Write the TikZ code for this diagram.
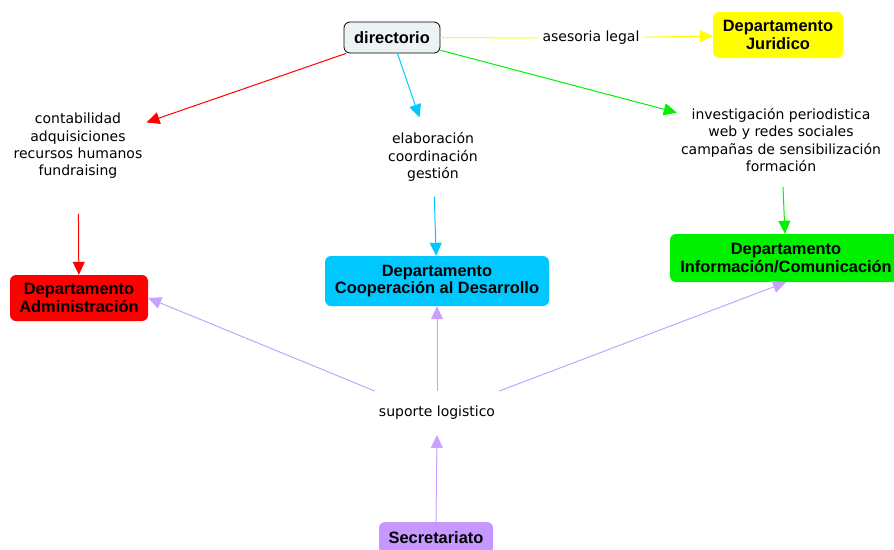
\documentclass[tikz,border=0pt]{standalone}
\usepackage{xcolor}
\usepackage{fontspec}
\setmainfont{Liberation Sans}
\newfontfamily\topicfont{DejaVu Sans}
\usetikzlibrary{arrows.meta}
\definecolor{dirgray}{HTML}{EDF3F5}
\definecolor{juryellow}{HTML}{FFFF00}
\definecolor{admred}{HTML}{FF0000}
\definecolor{coopblue}{HTML}{00C8FF}
\definecolor{infogreen}{HTML}{00F000}
\definecolor{secpurple}{HTML}{C697FF}
\definecolor{logpurple}{HTML}{C8A2FF}
\tikzset{arrow/.style={draw,-{Triangle[length=13pt,width=12pt]},line width=1pt,#1}}
\tikzset{arrow/.default={black}}
\tikzset{link/.style={draw,line width=1pt,#1}}
\tikzset{dept/.style={rounded corners=6pt,fill=#1,align=center,inner sep=0pt,font={\fontsize{16.4pt}{17.5pt}\selectfont\bfseries}}}
\tikzset{topic/.style={align=center,inner xsep=4pt,inner ysep=15pt,yshift=-3pt,font={\fontsize{14pt}{17.3pt}\selectfont\topicfont}}}

\begin{document}
\begin{tikzpicture}[x=1pt,y=-1pt]
        \useasboundingbox (0,0) rectangle (894,549);
        \node[dept=dirgray,draw=black,line width=0.8pt,minimum width=96pt,minimum height=31pt] (dir) at (392,37.5) {directorio};
        \node[dept=juryellow,minimum width=130pt,minimum height=46pt] (jur) at (778,35) {Departamento\\Juridico};
        \node[dept=admred,minimum width=138pt,minimum height=46pt] (adm) at (79,298) {Departamento\\Administración};
        \node[dept=coopblue,minimum width=224pt,minimum height=50pt] (coop) at (437,281) {Departamento\\Cooperación al Desarrollo};
        \node[dept=infogreen,minimum width=232pt,minimum height=48pt] (info) at (786,258) {Departamento\\Información/Comunicación};
        \node[dept=secpurple,minimum width=114pt,minimum height=32pt] (sec) at (436,538) {Secretariato};

        \node[topic,inner ysep=3pt,yshift=1pt] (legal) at (591,36) {asesoria legal};
        \node[topic] (adq) at (78,143) {contabilidad\\adquisiciones\\recursos humanos\\fundraising};
        \node[topic] (coord) at (433,154) {elaboración\\coordinación\\gestión};
        \node[topic] (redes) at (781,137) {investigación periodistica\\web y redes sociales\\campañas de sensibilización\\formación};
        \node[topic] (log) at (437,410) {suporte logistico};

        \path[link=juryellow] (dir) -- (legal);
        \path[arrow=juryellow] (legal) -- (jur);
        \path[arrow=admred] (dir) -- (adq);
        \path[arrow=admred,shorten <=20pt] (adq) -- (adm);
        \path[arrow=coopblue] (dir) -- (coord);
        \path[arrow=coopblue] (coord) -- (coop);
        \path[arrow=infogreen] (dir) -- (redes);
        \path[arrow=infogreen] (redes) -- (info);

        \foreach \a\b in {log.north west/adm.east, log.north/coop.south, log.north east/info.south, sec.north/log.south}{
            \path[arrow=logpurple] (\a) -- (\b);
        }
    \end{tikzpicture}
\end{document}
